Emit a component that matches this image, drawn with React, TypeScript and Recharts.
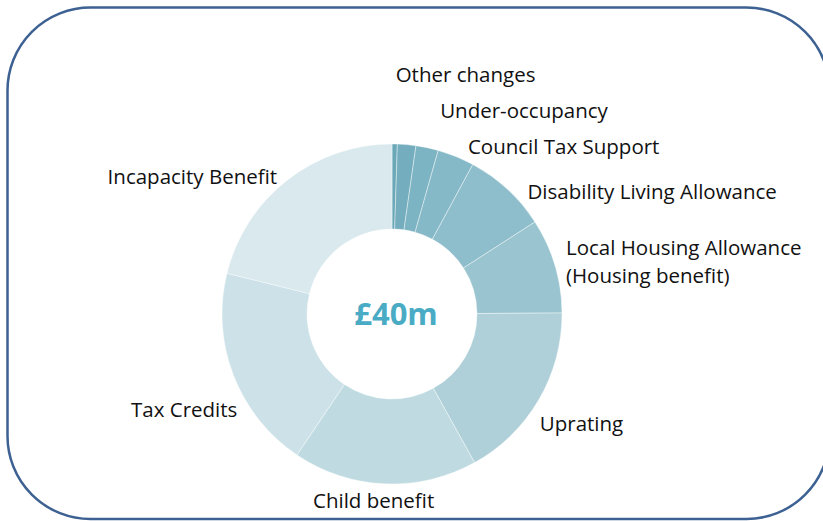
import { PieChart, Pie, Cell } from 'recharts'

// £m cut per category, clockwise from 12 o'clock
const categories = [
  '',
  'Other changes',
  'Under-occupancy',
  'Council Tax Support',
  'Disability Living Allowance',
  'Local Housing Allowance\n(Housing benefit)',
  'Uprating',
  'Child benefit',
  'Tax Credits',
  'Incapacity Benefit',
]
const values = [0.2, 0.7, 0.85, 1.4, 3.2, 3.6, 6.8, 7.0, 7.75, 8.45]
const totalLabel = '£40m'

const colors = [
  '#6aa8b8', '#74aebe', '#7db4c3', '#86b9c7', '#8ebecb',
  '#9ac5d0', '#afd0d9', '#bfdbe1', '#cde2e8', '#d9e9ee',
]

// manual label placement (offset from the slice's outer mid point), like the original slide
const labelLayout = [
  null,
  { anchor: 'start', dx: -11, dy: -63 },
  { anchor: 'start', dx: 13, dy: -30 },
  { anchor: 'start', dx: 12, dy: -2 },
  { anchor: 'start', dx: 20, dy: 10 },
  { anchor: 'start', dx: 11, dy: -11 },
  { anchor: 'start', dx: 1, dy: 31 },
  { anchor: 'middle', dx: -11, dy: 24 },
  { anchor: 'end', dx: 4, dy: 42 },
  { anchor: 'end', dx: -10, dy: 4 },
]

const data = categories.map((name, i) => ({ name, value: values[i] }))

const RAD = Math.PI / 180
const FONT = '"Open Sans", sans-serif'

function renderLabel(props: any) {
  const { cx, cy, midAngle, outerRadius, index } = props
  const layout = labelLayout[index]
  if (!layout) {
    // first (unlabelled) slice carries the total in the hole
    return (
      <text
        key="total"
        x={cx + 4}
        y={cy + 11}
        textAnchor="middle"
        fill="#4aabc5"
        fontSize={31}
        fontWeight={700}
        fontFamily={FONT}
      >
        {totalLabel}
      </text>
    )
  }
  const x = cx + outerRadius * Math.cos(-midAngle * RAD) + layout.dx
  const y = cy + outerRadius * Math.sin(-midAngle * RAD) + layout.dy
  const lines = categories[index].split('\n')
  return (
    <text
      key={`lbl-${index}`}
      x={x}
      y={y}
      textAnchor={layout.anchor as any}
      fill="#111"
      fontSize={20.5}
      fontFamily={FONT}
    >
      {lines.map((l, j) => (
        <tspan key={j} x={x} dy={j === 0 ? 0 : 28}>
          {l}
        </tspan>
      ))}
    </text>
  )
}

export default function App() {
  return (
    <div style={{ position: 'fixed', left: 0, top: 0, width: 823, height: 521, background: '#fff' }}>
      <svg width={823} height={521} style={{ position: 'absolute', left: 0, top: 0 }}>
        <rect x={7.5} y={7.5} width={822} height={511.5} rx={83} ry={83} fill="none" stroke="#3c6192" strokeWidth={2.5} />
      </svg>
      <div style={{ position: 'absolute', left: 0, top: 0 }}>
        <PieChart width={823} height={521} margin={{ top: 0, right: 0, bottom: 0, left: 0 }}>
          <Pie
            data={data}
            dataKey="value"
            nameKey="name"
            cx={392}
            cy={314}
            innerRadius={85}
            outerRadius={170}
            startAngle={90}
            endAngle={-270}
            stroke="#ffffff"
            strokeWidth={0.4}
            label={renderLabel}
            labelLine={false}
            isAnimationActive={false}
          >
            {data.map((d, i) => (
              <Cell key={d.name + i} fill={colors[i]} />
            ))}
          </Pie>
        </PieChart>
      </div>
    </div>
  )
}
